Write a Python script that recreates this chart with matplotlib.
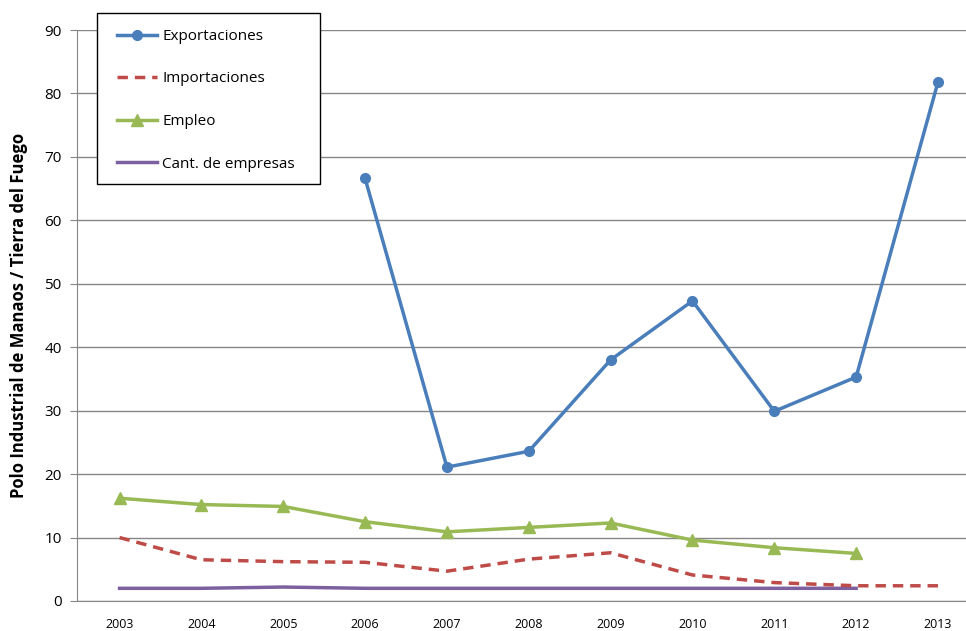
import matplotlib
matplotlib.use("Agg")
import matplotlib.pyplot as plt
from matplotlib.patches import Rectangle
import numpy as np

years = ["2003", "2004", "2005", "2006", "2007", "2008", "2009", "2010", "2011", "2012", "2013"]
exportaciones = [None, None, None, 66.6, 21.1, 23.6, 38.0, 47.3, 29.9, 35.3, 81.8]
importaciones = [10.0, 6.5, 6.2, 6.1, 4.7, 6.6, 7.6, 4.1, 2.9, 2.4, 2.4]
empleo = [16.2, 15.2, 14.9, 12.5, 10.9, 11.6, 12.3, 9.6, 8.4, 7.5, None]
empresas = [2.0, 2.0, 2.2, 2.0, 2.0, 2.0, 2.0, 2.0, 2.0, 2.0, None]
yticks = [0, 10, 20, 30, 40, 50, 60, 70, 80, 90]

def arr(v):
    return np.array([np.nan if x is None else x for x in v], dtype=float)

plt.rcParams['font.family'] = ['Open Sans', 'DejaVu Sans']

W, H = 966, 631
fig = plt.figure(figsize=(W / 100, H / 100), dpi=100)
left, right, bottom, top = 77, 983, 601, 30
ax = fig.add_axes([left / W, 1 - bottom / H, (right - left) / W, (bottom - top) / H])

x = np.arange(len(years))
ax.plot(x, arr(exportaciones), color="#4A7EBB", lw=2.5, marker="o", ms=7, label="Exportaciones", zorder=5)
ax.plot(x, arr(importaciones), color="#BE4B48", lw=2.5, ls=(0, (3, 2)), label="Importaciones", zorder=4)
ax.plot(x, arr(empleo), color="#98B954", lw=2.5, marker="^", ms=8, label="Empleo", zorder=4)
ax.plot(x, arr(empresas), color="#7D60A0", lw=2.5, label="Cant. de empresas", zorder=3)

ax.set_xlim(-0.52, len(years) - 0.45)
ax.set_ylim(0, 90)
ax.set_yticks(yticks)
ax.set_xticks(x)
ax.set_xticklabels(years, fontsize=9)
ax.tick_params(axis='y', labelsize=11, length=5, color="#868686", direction='out', pad=6)
ax.tick_params(axis='x', length=0, pad=12)
ax.grid(axis='y', color="#868686", lw=1)
ax.set_axisbelow(True)
for s in ["top", "right"]:
    ax.spines[s].set_visible(False)
for s in ["left", "bottom"]:
    ax.spines[s].set_color("#868686")
ax.set_ylabel("Polo Industrial de Manaos / Tierra del Fuego", fontsize=12, fontweight="bold", labelpad=12)

# legend box
box = Rectangle((97 / W, 1 - 184 / H), (320 - 97) / W, (184 - 13) / H, transform=fig.transFigure,
                facecolor="white", edgecolor="black", lw=1, zorder=10)
ax.add_patch(box)
box.set_clip_on(False)

leg = ax.legend(loc="upper left", bbox_to_anchor=(117 / W, 1 - 29 / H), bbox_transform=fig.transFigure,
                frameon=False, fontsize=11,
                labelspacing=1.8, handlelength=2.65, borderpad=0, handletextpad=0.3, borderaxespad=0)
leg.set_zorder(11)

fig.savefig("out.png", dpi=100, facecolor="white")
